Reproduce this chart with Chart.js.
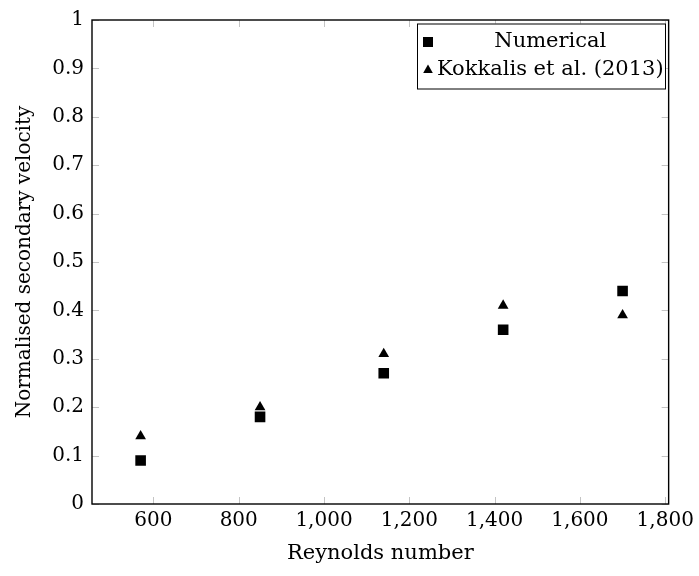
<!DOCTYPE html>
<html>
<head>
<meta charset="utf-8">
<title>Normalised secondary velocity</title>
<script src="https://cdn.jsdelivr.net/npm/chart.js@4.4.0/dist/chart.umd.min.js"></script>
<style>
  html, body { margin: 0; padding: 0; background: #fff; }
  #wrap { width: 699px; height: 576px; position: relative; }
</style>
</head>
<body>
<div id="wrap"><canvas id="reChart"></canvas></div>
<script>
// data
const reynolds = [570, 850, 1140, 1420, 1700];
const numerical = [0.09, 0.18, 0.27, 0.36, 0.44];
const kokkalis = [0.14, 0.20, 0.31, 0.41, 0.39];
const seriesNames = ['Numerical', 'Kokkalis et al. (2013)'];
const xTicks = [600, 800, 1000, 1200, 1400, 1600, 1800];
const yTicks = [0, 0.1, 0.2, 0.3, 0.4, 0.5, 0.6, 0.7, 0.8, 0.9, 1];

const FONT = '"DejaVu Serif", "Liberation Serif", serif';

// pgfplots style frame, inward ticks and legend box
const framePlugin = {
    id: 'frame',
    afterDraw(chart) {
        const { ctx, chartArea: a, scales } = chart;
        const len = 7;
        ctx.save();
        ctx.strokeStyle = '#c4c4c4';
        ctx.lineWidth = 1;
        ctx.beginPath();
        xTicks.forEach(v => {
            const px = Math.round(scales.x.getPixelForValue(v)) + 0.5;
            ctx.moveTo(px, a.bottom); ctx.lineTo(px, a.bottom - len);
            ctx.moveTo(px, a.top); ctx.lineTo(px, a.top + len);
        });
        yTicks.forEach(v => {
            const py = Math.round(scales.y.getPixelForValue(v)) + 0.5;
            ctx.moveTo(a.left, py); ctx.lineTo(a.left + len, py);
            ctx.moveTo(a.right, py); ctx.lineTo(a.right - len, py);
        });
        ctx.stroke();

        ctx.strokeStyle = '#000';
        ctx.lineWidth = 1.4;
        ctx.strokeRect(a.left, a.top, a.right - a.left, a.bottom - a.top);

        // legend
        const bx = 417, by = 23.5, bw = 248, bh = 65;
        ctx.fillStyle = '#fff';
        ctx.fillRect(bx, by, bw, bh);
        ctx.lineWidth = 1;
        ctx.strokeRect(bx + 0.5, by + 0.5, bw, bh);

        ctx.fillStyle = '#000';
        ctx.fillRect(423, 37, 10, 10);
        ctx.beginPath();
        ctx.moveTo(428, 64.5);
        ctx.lineTo(432.8, 73);
        ctx.lineTo(423.2, 73);
        ctx.closePath();
        ctx.fill();

        ctx.font = '21px ' + FONT;
        ctx.textBaseline = 'middle';
        const textLeft = 437;
        const kw = ctx.measureText(seriesNames[1]).width;
        ctx.textAlign = 'center';
        ctx.fillText(seriesNames[0], textLeft + kw / 2, 42);
        ctx.textAlign = 'left';
        ctx.fillText(seriesNames[1], textLeft, 70);
        ctx.restore();
    }
};

const ctx = document.getElementById('reChart').getContext('2d');
new Chart(ctx, {
    type: 'scatter',
    data: {
        datasets: [{
            label: seriesNames[0],
            data: reynolds.map((x, i) => ({ x: x, y: numerical[i] })),
            pointStyle: 'rect',
            pointRadius: 7.5,
            backgroundColor: '#000',
            borderColor: '#000',
            borderWidth: 0
        }, {
            label: seriesNames[1],
            data: reynolds.map((x, i) => ({ x: x, y: kokkalis[i] })),
            pointStyle: 'triangle',
            pointRadius: 6.2,
            backgroundColor: '#000',
            borderColor: '#000',
            borderWidth: 0
        }]
    },
    options: {
        responsive: true,
        maintainAspectRatio: false,
        animation: false,
        layout: { padding: { top: 14, right: 24, left: 0, bottom: 0 } },
        plugins: {
            legend: { display: false },
            tooltip: { enabled: false }
        },
        scales: {
            x: {
                type: 'linear',
                min: 456,
                max: 1808,
                afterBuildTicks: s => { s.ticks = xTicks.map(v => ({ value: v })); },
                afterFit: s => { s.height = 72; },
                grid: { display: false, drawTicks: false },
                border: { display: false },
                ticks: {
                    color: '#000',
                    padding: 5,
                    autoSkip: false,
                    maxRotation: 0,
                    font: { family: FONT, size: 20 },
                    callback: v => v.toLocaleString('en-US')
                },
                title: {
                    display: true,
                    text: 'Reynolds number',
                    color: '#000',
                    font: { family: FONT, size: 21 },
                    padding: { top: 0, bottom: 10 }
                }
            },
            y: {
                min: 0,
                max: 1,
                afterBuildTicks: s => { s.ticks = yTicks.map(v => ({ value: v })); },
                afterFit: s => { s.width = 92; },
                grid: { display: false, drawTicks: false },
                border: { display: false },
                ticks: {
                    color: '#000',
                    padding: 8,
                    font: { family: FONT, size: 20 },
                    callback: v => String(Math.round(v * 10) / 10)
                },
                title: {
                    display: true,
                    text: 'Normalised secondary velocity',
                    color: '#000',
                    font: { family: FONT, size: 20 },
                    padding: { top: 13, bottom: 0 }
                }
            }
        }
    },
    plugins: [framePlugin]
});
</script>
</body>
</html>
